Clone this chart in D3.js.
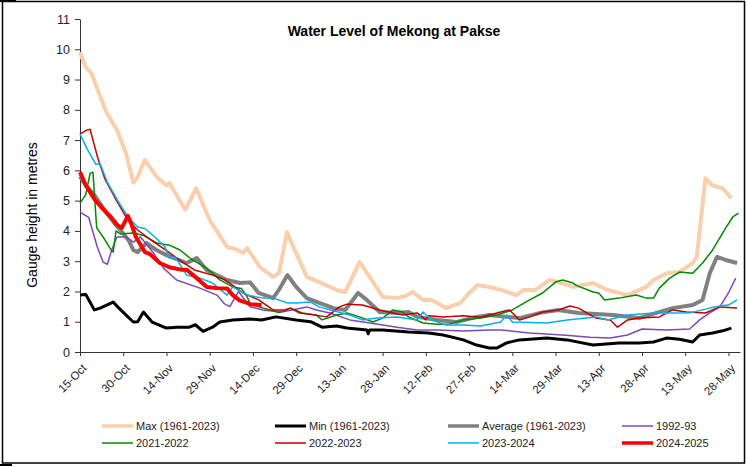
<!DOCTYPE html>
<html>
<head>
<meta charset="utf-8">
<script src="https://cdn.jsdelivr.net/npm/d3@7"></script>
<style>
  body { margin: 0; background: #fff; }
  svg { display: block; font-family: Arial, 'Liberation Sans', sans-serif; }
</style>
</head>
<body>
<svg id="viz" width="747" height="467"></svg>
<script>
/* Data */

// each point is [days since 15-Oct, gauge height in metres]
const maxLevel = [[0,9.9],[2,9.4],[4,9.2],[7,8.45],[9,7.95],[13,7.3],[16,6.55],[18.5,5.6],[20,5.78],[22.5,6.34],[26.5,5.8],[30,5.5],[31,5.58],[36.5,4.7],[40.3,5.41],[45,4.36],[51,3.47],[54,3.4],[56.5,3.27],[58,3.43],[62.4,2.8],[67,2.48],[69,2.6],[71.8,3.96],[75,3.27],[78.7,2.48],[83,2.31],[89,2.05],[92,1.98],[97,2.97],[100.5,2.48],[105,1.82],[110,1.78],[113,1.85],[115.5,1.98],[119,1.72],[122,1.72],[127,1.45],[132,1.62],[135,1.95],[138,2.21],[142,2.15],[146,2.05],[151.5,1.88],[154,2.05],[158,2.05],[163,2.38],[166,2.31],[171,2.15],[178,2.28],[183,2.05],[190,1.88],[196.5,2.15],[199,2.38],[203.5,2.6],[208,2.64],[212.6,2.94],[214,3.14],[217,5.74],[219.5,5.5],[223,5.41],[226,5.08]];
const minLevel = [[0,1.88],[2,1.9],[5,1.39],[7,1.45],[11.5,1.65],[13,1.5],[16,1.22],[18.5,0.99],[20,1.0],[22,1.32],[25,0.99],[30,0.79],[33.5,0.82],[38,0.82],[40,0.9],[42.7,0.68],[46,0.82],[48.5,0.99],[53,1.06],[59,1.09],[63,1.06],[68,1.16],[75,1.06],[80,1.0],[84,0.82],[89,0.86],[92.6,0.79],[99.5,0.73],[100,0.6],[100.5,0.73],[105,0.73],[114,0.66],[121,0.63],[126,0.56],[133,0.4],[137.6,0.23],[142,0.13],[144.6,0.13],[148,0.3],[152.5,0.4],[162,0.46],[169,0.4],[178,0.23],[187,0.3],[194,0.3],[199,0.33],[203.5,0.46],[208,0.42],[212.6,0.33],[215,0.56],[219.5,0.63],[223,0.7],[226,0.79]];
const avgLevel = [[0,5.8],[2,5.5],[4.5,5.25],[7,4.9],[9.3,4.59],[12,4.25],[14,4.03],[16.8,3.7],[18.5,3.37],[20,3.3],[23,3.6],[26.5,3.37],[30,3.2],[37,2.94],[40.5,3.1],[44,2.7],[51,2.38],[55.5,2.28],[59,2.3],[62,1.95],[67,1.78],[69,2.05],[72,2.54],[75,2.15],[78.7,1.78],[83,1.62],[88,1.45],[92,1.39],[96.5,1.95],[99.5,1.72],[104,1.32],[110,1.29],[114,1.32],[117,1.16],[124,1.06],[130.7,0.99],[137.6,1.16],[142,1.22],[148,1.16],[152.5,1.12],[160,1.3],[166,1.39],[173,1.29],[185,1.22],[194,1.12],[200,1.29],[205.6,1.45],[212.6,1.55],[216,1.72],[218.5,2.6],[221,3.14],[224,3.04],[228,2.94]];
const level1992 = [[0,4.62],[3,4.45],[6,3.47],[8,2.97],[9.5,2.9],[11,3.37],[12.8,3.8],[16,3.8],[18.5,3.63],[21,3.8],[25.5,3.27],[29,2.77],[33.5,2.38],[41.6,2.11],[47.5,1.88],[50,1.6],[52,1.5],[55,2.0],[59,1.49],[63.5,1.39],[70,1.32],[78.7,1.49],[82,1.39],[86.7,1.29],[93.6,1.06],[100.5,0.96],[110,0.82],[117,0.73],[124,0.73],[133,0.69],[142,0.73],[146,0.73],[156,0.63],[167.5,0.56],[177,0.49],[184,0.46],[190,0.56],[195,0.76],[203.5,0.73],[211.5,0.76],[215,1.06],[218.5,1.29],[222,1.49],[225,1.95],[227.5,2.44]];
const level2021 = [[0,4.92],[2,5.2],[3.5,5.9],[4.5,5.94],[5.2,4.92],[5.8,4.1],[8,3.8],[10.4,3.43],[11.5,3.3],[12.5,4.0],[14,3.9],[18.5,3.93],[22,3.85],[26.6,3.6],[31,3.53],[34.7,3.37],[39,3.04],[44,2.77],[48.5,2.38],[53,2.15],[56,2.1],[58,1.82],[59,1.6],[62,1.49],[66,1.39],[69,1.3],[73,1.45],[76,1.29],[82,1.22],[84,1.06],[89,1.22],[92.6,1.29],[97,1.16],[101.6,0.99],[105,1.12],[108.6,1.39],[112,1.32],[114,1.16],[119,0.96],[124,0.92],[128,0.92],[133,1.06],[139,1.12],[144.6,1.22],[150,1.39],[156,1.72],[160.5,1.95],[165,2.31],[167.5,2.38],[171,2.28],[172,2.21],[178,1.98],[180,1.95],[182,1.72],[187,1.78],[193,1.88],[196.5,1.78],[199,1.78],[201,2.11],[204.6,2.44],[208,2.64],[212.6,2.6],[216,2.94],[219.5,3.37],[224,4.09],[226.5,4.46],[228.5,4.59]];
const level2022 = [[0,7.2],[2.3,7.33],[3.5,7.36],[4.5,7.0],[6.2,6.4],[8.7,5.7],[12,5.12],[16.6,4.36],[20,4.03],[24.6,3.7],[30,3.35],[35,3.0],[40,2.7],[46,2.54],[50,2.4],[53,2.2],[56.5,1.95],[62,1.72],[67,1.39],[71,1.39],[73,1.45],[77,1.29],[85.6,1.16],[90,1.49],[92.6,1.58],[98,1.55],[104,1.39],[108.6,1.29],[112,1.22],[117,1.29],[120,1.06],[121,1.2],[126,1.16],[133,1.2],[139,1.15],[146,1.32],[149,1.39],[152.5,1.06],[156,1.16],[160.5,1.32],[166,1.39],[170,1.52],[173,1.45],[179,1.12],[184,1.06],[186.5,0.82],[190,1.06],[194,1.12],[201,1.16],[205.6,1.39],[210.5,1.32],[217,1.29],[222,1.49],[228,1.45]];
const level2023 = [[0,7.2],[2.5,6.7],[5.5,6.2],[7,6.22],[9.5,5.6],[13,5.02],[16.6,4.46],[20,4.13],[22.5,4.08],[26,3.8],[29.5,3.47],[31,3.1],[33,3.14],[37,2.54],[41.6,2.44],[46,2.28],[51,1.88],[53,2.15],[58,1.88],[63.5,1.78],[67,1.78],[72,1.62],[75,1.62],[80,1.65],[83,1.49],[87,1.39],[93.6,1.22],[98,1.06],[103,1.12],[110,1.16],[117,1.06],[119,1.32],[122,1.06],[127,0.89],[133,0.89],[139,0.86],[146,0.99],[148,1.22],[150,0.99],[162,0.96],[169,1.06],[179,1.16],[183,1.06],[190,1.22],[199,1.29],[205.6,1.29],[212,1.3],[218.5,1.45],[222,1.52],[225,1.55],[228,1.72]];
const level2024 = [[0,5.94],[2,5.51],[5.2,5.02],[7.3,4.79],[10.7,4.46],[13,4.19],[14.5,4.1],[16.6,4.5],[17.7,4.26],[19.4,3.8],[22.5,3.3],[24,3.25],[27.7,2.94],[31,2.8],[35,2.72],[37,2.72],[40.5,2.44],[44,2.15],[47.5,2.11],[51,2.1],[53,1.88],[55.5,1.7],[58,1.62],[59,1.58],[63,1.55]];

const seriesNames = ['Max (1961-2023)', 'Min (1961-2023)', 'Average (1961-2023)', '1992-93', '2021-2022', '2022-2023', '2023-2024', '2024-2025'];
const xTickLabels = ['15-Oct', '30-Oct', '14-Nov', '29-Nov', '14-Dec', '29-Dec', '13-Jan', '28-Jan', '12-Feb', '27-Feb', '14-Mar', '29-Mar', '13-Apr', '28-Apr', '13-May', '28-May'];
const yTicks = [0, 1, 2, 3, 4, 5, 6, 7, 8, 9, 10, 11];

/* Visualization */

const start = Date.UTC(2024, 9, 15);
const toDate = (d) => new Date(start + d * 864e5);

const series = [
  { name: seriesNames[0], data: maxLevel, color: '#FBCFAC', width: 4 },
  { name: seriesNames[1], data: minLevel, color: '#000000', width: 3 },
  { name: seriesNames[2], data: avgLevel, color: '#808080', width: 4 },
  { name: seriesNames[3], data: level1992, color: '#7E48B8', width: 1.5 },
  { name: seriesNames[4], data: level2021, color: '#008A00', width: 1.5 },
  { name: seriesNames[5], data: level2022, color: '#C00000', width: 1.5 },
  { name: seriesNames[6], data: level2023, color: '#00B0F0', width: 1.5 },
  { name: seriesNames[7], data: level2024, color: '#FF0000', width: 4 },
];

const svg = d3.select('#viz');

// outer frame
svg.append('rect')
  .attr('x', 2.5).attr('y', 1.5)
  .attr('width', 742).attr('height', 461.5)
  .attr('fill', '#fff').attr('stroke', '#000').attr('stroke-width', 1.5);

// little corner marks left by the export
svg.append('rect').attr('x', 0).attr('y', 0).attr('width', 16).attr('height', 2).attr('fill', '#000');
svg.append('rect').attr('x', 0).attr('y', 464).attr('width', 12).attr('height', 2).attr('fill', '#000');

// scales
const x = d3.scaleUtc().domain([toDate(0), toDate(229)]).range([80, 740]);
const y = d3.scaleLinear().domain([0, 11]).range([352, 19]);

// y axis
const yAxis = svg.append('g')
  .attr('transform', 'translate(80,0)')
  .call(d3.axisLeft(y).tickValues(yTicks).tickSize(5).tickSizeOuter(0).tickPadding(5));
yAxis.selectAll('text').attr('font-size', 12.5).attr('fill', '#222').attr('font-family', null);

// x axis
const xAxis = svg.append('g')
  .attr('transform', 'translate(0,352)')
  .call(d3.axisBottom(x)
    .tickValues(xTickLabels.map((_, i) => toDate(i * 15)))
    .tickSize(4).tickSizeOuter(0)
    .tickFormat((_, i) => xTickLabels[i]));
xAxis.selectAll('text')
  .attr('font-size', 11.5).attr('fill', '#222').attr('font-family', null)
  .attr('text-anchor', 'end')
  .attr('x', 0).attr('y', 0).attr('dy', '0.35em')
  .attr('transform', 'translate(4,14) rotate(-45)');

svg.selectAll('.domain, .tick line').attr('stroke', '#333');

// lines
const line = d3.line()
  .x((d) => x(toDate(d[0])))
  .y((d) => y(d[1]));

svg.append('g')
  .selectAll('path')
  .data(series)
  .join('path')
  .attr('fill', 'none')
  .attr('stroke', (d) => d.color)
  .attr('stroke-width', (d) => d.width)
  .attr('stroke-linejoin', 'round')
  .attr('d', (d) => line(d.data));

// title
svg.append('text')
  .attr('x', 394).attr('y', 36)
  .attr('text-anchor', 'middle')
  .attr('font-size', 14).attr('font-weight', 'bold')
  .text('Water Level of Mekong at Pakse');

// y label
svg.append('text')
  .attr('transform', 'translate(37,215) rotate(-90)')
  .attr('text-anchor', 'middle')
  .attr('font-size', 14)
  .text('Gauge height in metres');

// legend
const legendX = [102, 275, 448, 622];
const legendY = [426, 443];
const legend = svg.append('g')
  .selectAll('g')
  .data(series)
  .join('g')
  .attr('transform', (_, i) => `translate(${legendX[i % 4]},${legendY[Math.floor(i / 4)]})`);

legend.append('line')
  .attr('x1', 0).attr('x2', 31)
  .attr('stroke', (d) => d.color)
  .attr('stroke-width', (d) => Math.min(d.width, 3.5));

legend.append('text')
  .attr('x', 34).attr('dy', '0.35em')
  .attr('font-size', 11)
  .attr('fill', '#222')
  .text((d) => d.name);
</script>
</body>
</html>
